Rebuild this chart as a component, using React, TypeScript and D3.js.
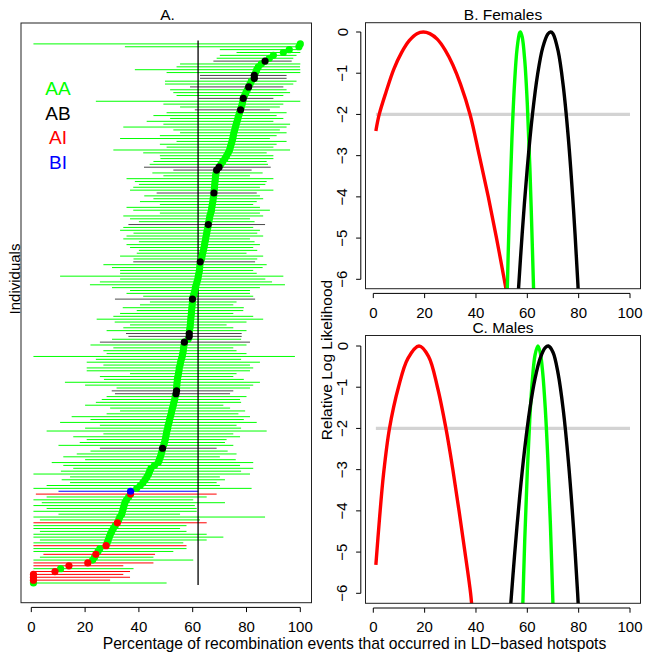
import React from "react";
import * as d3 from "d3";

const FONT = "'Liberation Sans', Arial, Helvetica, sans-serif";

// ---------- Panel A data (rows from bottom = 0 to top) ----------
const values = [
  0.8, 0.8, 0.8, 0.8, 8.8, 10.9, 14, 21, 22.8, 23.5,
  24, 24.8, 25.5, 27.8, 28.2, 28.6, 29, 29.4, 29.9, 30.5,
  31.2, 32, 32.5, 32.9, 33.6, 33.9, 34.2, 34.5, 34.8, 35.4,
  36.2, 36.9, 36.9, 39.2, 40.5, 41.5, 42.3, 43, 43.6, 44,
  44.5, 45.8, 47.2, 47.6, 48, 48.3, 48.6, 48.8, 49.2, 49.5,
  49.8, 50, 50.2, 50.4, 50.7, 50.9, 51.2, 51.4, 51.7, 52,
  52.2, 52.5, 52.8, 53, 53.3, 53.5, 53.8, 54, 54, 54.1,
  54.2, 54.3, 54.5, 54.7, 54.9, 55, 55.3, 55.5, 55.8, 56.1,
  56.3, 56.5, 56.6, 56.8, 56.9, 58.3, 58.7, 58.7, 58.8, 59,
  59.1, 59.2, 59.3, 59.4, 59.5, 59.6, 59.7, 59.8, 59.9, 59.9,
  60.2, 60.5, 60.8, 61, 61.3, 61.6, 61.9, 62.1, 62.3, 62.5,
  62.6, 62.7, 62.8, 63.3, 63.5, 63.7, 64, 64.2, 64.4, 64.6,
  64.8, 65, 65.2, 65.4, 65.6, 65.8, 66, 66.2, 66.4, 66.7,
  67, 67.1, 67.3, 67.5, 67.6, 67.8, 67.9, 68, 68.1, 68.2,
  68.3, 68.4, 68.5, 68.7, 68.9, 69.8, 70.5, 71.2, 72, 72.6,
  73.2, 73.7, 74, 74.3, 74.6, 74.9, 75.1, 75.3, 75.6, 75.9,
  76.2, 76.5, 76.8, 77.1, 77.4, 77.8, 78.1, 78.4, 78.6, 78.8,
  79.3, 79.8, 80.3, 80.8, 81.3, 81.8, 82.9, 82.9, 83.4, 83.8,
  84.4, 85.5, 86.9, 88.5, 90, 93.7, 95.9, 99.5, 100,
];

const lowers = [
  0.8, 0.8, 0.8, 0.8, 0.8, 0.8, 0.8, 0.8, 0.8, 3.2,
  4.5, 0.8, 0.8, 0.8, 0.8, 3.2, 0.8, 0.8, 3.2, 0.8,
  0.8, 0.8, 3.2, 0.8, 10.1, 0.8, 5.7, 0.8, 3.9, 0.8,
  5.7, 1.7, 10.1, 0.8, 5.7, 14.4, 11.3, 14.4, 0.8, 11,
  15.6, 11.9, 7.6, 20, 11.9, 16.9, 22, 25.5, 10.1, 18,
  20.6, 15.6, 26.8, 5.7, 20, 25.5, 10.7, 22, 15, 28,
  33, 29.3, 20, 24, 26.2, 28, 31.1, 29.9, 31.7, 20,
  12.5, 27, 25.5, 36.7, 20.6, 20.6, 26.8, 20.6, 24, 0.8,
  28, 26.8, 30.5, 22, 25.5, 30, 36.1, 35.2, 28, 34.2,
  36.7, 31, 24.3, 30.5, 33, 39.2, 34, 40.4, 44.1, 31.1,
  41.6, 35.4, 36.7, 30, 21.8, 25.5, 33, 10.7, 33, 33,
  30, 26.8, 37.9, 38, 33, 39.2, 40, 36.7, 35.4, 40,
  34.2, 35.4, 38, 33, 34.2, 36.1, 40, 36.7, 34.2, 47.8,
  37.9, 35.4, 47.8, 40.4, 45.4, 42, 46.6, 36.7, 37.9, 40,
  38.5, 35.4, 49.1, 45, 52.8, 41.9, 44, 45.4, 48, 47.8,
  41.6, 30.5, 50.3, 47.8, 54, 33, 47.8, 55.3, 52.8, 34.2,
  49.1, 42.9, 51.6, 45.4, 50.3, 60.8, 55.3, 49.1, 24, 62.1,
  54, 52.8, 51.6, 59, 49.7, 49.7, 62.7, 62.7, 50.3, 38.5,
  54, 55.3, 67.7, 68.9, 70.1, 76.3, 70.1, 34.8, 0.8,
];

const uppers = [
  50.3, 29.3, 36.7, 34.2, 36.7, 38, 34.2, 45.4, 60.2, 45.4,
  46, 52.8, 57.7, 57.7, 56.5, 65.2, 71.4, 65.2, 57.7, 55.3,
  57.7, 65.2, 62.7, 86.9, 55.3, 61.5, 61.5, 60.8, 72, 60.2,
  65.2, 68.9, 62.1, 81.9, 70.1, 68.9, 72, 70.1, 81.3, 78,
  82.5, 77.6, 82.5, 76, 70.1, 76.3, 73, 68.9, 75.1, 72,
  72.6, 77.6, 75.1, 87.5, 78, 76.3, 83.8, 79, 81.3, 77,
  79.5, 73.9, 71.4, 78, 77.6, 80, 73.9, 75.1, 81.3, 82.5,
  85, 79, 75.1, 76.3, 81.3, 82.5, 81.3, 85, 78, 98,
  80, 76.3, 75.1, 80, 81.3, 78, 78.2, 78.2, 80, 75.1,
  72.6, 80, 86.2, 82.5, 75.1, 78.8, 79, 75.1, 76.3, 83.2,
  82.5, 81.3, 81.3, 85, 94.3, 89.5, 87, 93.7, 83.8, 82.5,
  86, 87.5, 83.2, 84, 86.2, 80, 84, 82.5, 85, 83,
  81.3, 86.2, 84, 85, 82.5, 86.9, 83, 81.3, 86.2, 85,
  88.7, 85, 82.5, 83.8, 86.2, 85, 83.8, 90, 85, 87,
  87.5, 90, 81.3, 86, 81.9, 89, 88, 87.5, 90, 90,
  87.5, 96.2, 90, 91.2, 94.9, 88.7, 91.2, 94.9, 92.4, 94.9,
  96.2, 90, 93.7, 91.2, 94.9, 88.7, 92.4, 93.7, 100, 90,
  93.7, 96.2, 94.9, 93.7, 97.4, 98.6, 94.9, 94.9, 100, 100,
  99.9, 100, 96.8, 97.4, 98.6, 100, 100, 100, 100,
];

// group membership (all other rows are AA)
const abRows = [47, 66, 67, 84, 86, 87, 99, 112, 125, 136, 144, 145, 165, 169, 173, 176, 177, 182];
const aiRows = [1, 2, 3, 4, 6, 7, 10, 13, 21, 31];
const biRows = [32];

const legendLabels = ["AA", "AB", "AI", "BI"];
const legendColors = ["#00ff00", "#000000", "#ff0000", "#0000ff"];
const referenceValue = 62;
const xTicks = [0, 20, 40, 60, 80, 100];
const yTicks = [0, -1, -2, -3, -4, -5, -6];

// ---------- Panel B (Females) curves ----------
const redFemX = [1, 2.3, 5, 8, 11, 14, 17, 19.5, 22, 25, 28, 31, 34, 37.7, 41.3, 44.8, 48, 51, 52.2];
const redFemY = [-2.4, -2, -1.45, -0.9, -0.5, -0.21, -0.04, 0, -0.04, -0.18, -0.44, -0.8, -1.27, -2, -3, -4, -5, -6, -6.4];
const greenFemX = [52, 53, 54, 55, 56, 57, 57.3, 58, 59, 60, 61, 62, 62.6];
const greenFemY = [-6.7, -4.4, -2.6, -1.27, -0.41, -0.02, 0, -0.12, -0.69, -1.75, -3.3, -5.3, -6.6];
const blackFemX = [56.5, 58, 60, 62, 64, 66, 68, 69.1, 70, 72, 74, 76, 78, 79.6, 80];
const blackFemY = [-6.3, -4.89, -3.29, -2, -1.03, -0.38, -0.05, 0, -0.04, -0.46, -1.31, -2.59, -4.31, -6, -6.5];

// ---------- Panel C (Males) curves ----------
const redMalX = [1, 2.4, 4, 6.3, 9.8, 13.5, 17.8, 21.5, 25, 28.3, 31, 33.4, 35.7, 37.9, 38.5];
const redMalY = [-5.31, -4.2, -3.1, -2, -1, -0.3, 0, -0.25, -1, -2, -3, -4, -5, -6, -6.4];
const greenMalX = [58, 59, 60, 61, 62, 63, 64.1, 65, 66, 67, 68, 69, 70];
const greenMalY = [-6.8, -4.7, -3.04, -1.72, -0.8, -0.22, 0, -0.15, -0.65, -1.52, -2.75, -4.35, -6.3];
const blackMalX = [53.5, 55, 57, 59, 61, 63, 65, 67, 68.2, 70, 72, 74, 76, 78, 79.6, 80];
const blackMalY = [-6.3, -5.1, -3.67, -2.48, -1.52, -0.79, -0.3, -0.04, 0, -0.15, -0.67, -1.55, -2.8, -4.42, -6, -6.5];

const thresholdLevel = -2;
const thresholdRange = [1, 100];

type Curve = { xs: number[]; ys: number[]; color: string };

function groupOf(i: number): number {
  if (abRows.includes(i)) return 1;
  if (aiRows.includes(i)) return 2;
  if (biRows.includes(i)) return 3;
  return 0;
}

const lineColors = ["#00ff00", "#4a4a4a", "#ff0000", "#0000ff"];

function XAxis({ x, boxBottom }: { x: d3.ScaleLinear<number, number>; boxBottom: number }) {
  const ay = boxBottom + 4.7;
  return (
    <g>
      <line x1={x(0)} x2={x(100)} y1={ay} y2={ay} stroke="#000" strokeWidth={1} />
      {xTicks.map((t) => (
        <g key={t}>
          <line x1={x(t)} x2={x(t)} y1={ay} y2={ay + 4.7} stroke="#000" strokeWidth={1} />
          <text x={x(t)} y={boxBottom + 29} textAnchor="middle" fontSize={15} fontFamily={FONT} fill="#000">
            {t}
          </text>
        </g>
      ))}
    </g>
  );
}

function YAxis({ y, boxLeft }: { y: d3.ScaleLinear<number, number>; boxLeft: number }) {
  const ax = boxLeft - 4.7;
  return (
    <g>
      <line x1={ax} x2={ax} y1={y(0)} y2={y(-6)} stroke="#000" strokeWidth={1} />
      {yTicks.map((t) => {
        const ty = y(t);
        const lx = boxLeft - 18;
        return (
          <g key={t}>
            <line x1={ax - 4.7} x2={ax} y1={ty} y2={ty} stroke="#000" strokeWidth={1} />
            <text
              x={lx}
              y={ty}
              transform={`rotate(-90, ${lx}, ${ty})`}
              textAnchor="middle"
              fontSize={15}
              fontFamily={FONT}
              fill="#000"
            >
              {t === 0 ? "0" : "\u2212" + Math.abs(t)}
            </text>
          </g>
        );
      })}
    </g>
  );
}

function LikPanel({
  id,
  title,
  left,
  right,
  top,
  bottom,
  y0,
  y6,
  curves,
}: {
  id: string;
  title: string;
  left: number;
  right: number;
  top: number;
  bottom: number;
  y0: number;
  y6: number;
  curves: Curve[];
}) {
  const x = d3.scaleLinear().domain([0, 100]).range([373.3, 630]);
  const y = d3.scaleLinear().domain([0, -6]).range([y0, y6]);
  const line = d3
    .line<[number, number]>()
    .x((d) => x(d[0]))
    .y((d) => y(d[1]))
    .curve(d3.curveCatmullRom.alpha(0.5));
  return (
    <g>
      <defs>
        <clipPath id={id}>
          <rect x={left} y={top} width={right - left} height={bottom - top} />
        </clipPath>
      </defs>
      <g clipPath={`url(#${id})`}>
        <line
          x1={x(thresholdRange[0])}
          x2={x(thresholdRange[1])}
          y1={y(thresholdLevel)}
          y2={y(thresholdLevel)}
          stroke="#d3d3d3"
          strokeWidth={3.3}
        />
        {curves.map((c, k) => (
          <path
            key={k}
            d={line(c.xs.map((v, i) => [v, c.ys[i]] as [number, number])) || ""}
            fill="none"
            stroke={c.color}
            strokeWidth={3.4}
            strokeLinejoin="round"
          />
        ))}
      </g>
      <rect x={left} y={top} width={right - left} height={bottom - top} fill="none" stroke="#222" strokeWidth={1} />
      <XAxis x={x} boxBottom={bottom} />
      <YAxis y={y} boxLeft={left} />
      <text x={(left + right) / 2} y={top - 2.7} textAnchor="middle" fontSize={15.5} fontFamily={FONT} fill="#000">
        {title}
      </text>
    </g>
  );
}

export default function App() {
  const n = values.length;
  const xA = d3.scaleLinear().domain([0, 100]).range([31.3, 300.3]);
  const yA = d3.scaleLinear().domain([0, n - 1]).range([583, 43.9]);
  const rows = d3.range(n);
  const groups = rows.map(groupOf);
  const pointOrder = [0, 2, 3, 1];

  const femCurves: Curve[] = [
    { xs: redFemX, ys: redFemY, color: "#ff0000" },
    { xs: greenFemX, ys: greenFemY, color: "#00ff00" },
    { xs: blackFemX, ys: blackFemY, color: "#000000" },
  ];
  const malCurves: Curve[] = [
    { xs: redMalX, ys: redMalY, color: "#ff0000" },
    { xs: greenMalX, ys: greenMalY, color: "#00ff00" },
    { xs: blackMalX, ys: blackMalY, color: "#000000" },
  ];

  const boxA = { left: 21, right: 311.5, top: 23, bottom: 602.7 };

  return (
    <svg
      width={649}
      height={659}
      viewBox="0 0 649 659"
      style={{ position: "absolute", left: 0, top: 0, background: "#fff" }}
    >
      <rect x={0} y={0} width={649} height={659} fill="#fff" />

      {/* Panel A */}
      <g>
        {rows.map((i) => (
          <line
            key={"ci" + i}
            x1={xA(lowers[i])}
            x2={xA(uppers[i])}
            y1={yA(i)}
            y2={yA(i)}
            stroke={lineColors[groups[i]]}
            strokeWidth={1}
          />
        ))}
        <line
          x1={xA(referenceValue)}
          x2={xA(referenceValue)}
          y1={yA(-0.7)}
          y2={yA(n + 0.2)}
          stroke="#000"
          strokeWidth={1.3}
        />
        {pointOrder.map((g) =>
          rows
            .filter((i) => groups[i] === g)
            .map((i) => (
              <circle key={"p" + i} cx={xA(values[i])} cy={yA(i)} r={3.6} fill={legendColors[g]} />
            ))
        )}
        <rect
          x={boxA.left}
          y={boxA.top}
          width={boxA.right - boxA.left}
          height={boxA.bottom - boxA.top}
          fill="none"
          stroke="#222"
          strokeWidth={1}
        />
        <XAxis x={xA} boxBottom={boxA.bottom} />
        {legendLabels.map((lab, k) => (
          <text
            key={lab}
            x={58}
            y={95 + k * 24.7}
            textAnchor="middle"
            fontSize={19}
            fontFamily={FONT}
            fill={legendColors[k]}
          >
            {lab}
          </text>
        ))}
        <text x={167.5} y={20} textAnchor="middle" fontSize={15.5} fontFamily={FONT} fill="#000">
          A.
        </text>
        <text
          x={20}
          y={279}
          transform="rotate(-90, 20, 279)"
          textAnchor="middle"
          fontSize={15}
          fontFamily={FONT}
          fill="#000"
        >
          Individuals
        </text>
      </g>

      {/* Panel B */}
      <LikPanel
        id="clipB"
        title="B. Females"
        left={365.5}
        right={640.5}
        top={22.7}
        bottom={288.7}
        y0={32}
        y6={279.3}
        curves={femCurves}
      />
      {/* Panel C */}
      <LikPanel
        id="clipC"
        title="C. Males"
        left={365.5}
        right={640.5}
        top={335.5}
        bottom={603.3}
        y0={346}
        y6={593.3}
        curves={malCurves}
      />

      <text
        x={331.5}
        y={360}
        transform="rotate(-90, 331.5, 360)"
        textAnchor="middle"
        fontSize={15.5}
        fontFamily={FONT}
        fill="#000"
      >
        Relative Log Likelihood
      </text>
      <text x={354.5} y={649} textAnchor="middle" fontSize={15.7} fontFamily={FONT} fill="#000">
        Percentage of recombination events that occurred in LD{"\u2212"}based hotspots
      </text>
    </svg>
  );
}
